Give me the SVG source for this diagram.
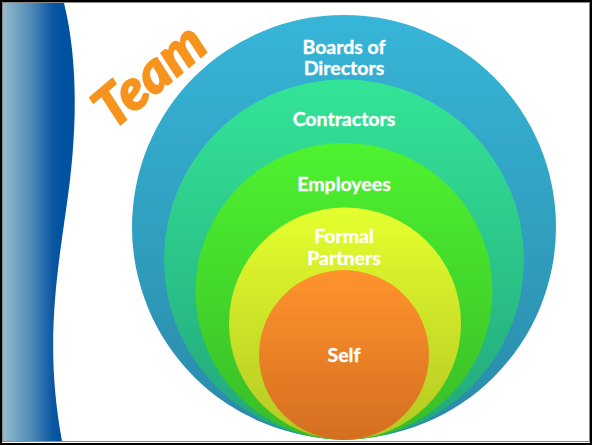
<svg xmlns="http://www.w3.org/2000/svg" width="592" height="445" viewBox="0 0 592 445">
<style>
.lbl{font-family:Lato,"Open Sans","Liberation Sans",sans-serif;font-weight:bold;font-size:19.5px;fill:#ffffff;stroke:#ffffff;stroke-width:0.35;text-anchor:middle}
.team{font-family:Lato,"Open Sans","Liberation Sans",sans-serif;font-weight:900;font-style:italic;font-size:56px;fill:#F7941D;stroke:#F7941D;stroke-width:1.6;stroke-linejoin:round}
</style>
<defs>
<linearGradient id="gWave" gradientUnits="userSpaceOnUse" x1="4" y1="0" x2="62" y2="0">
<stop offset="0" stop-color="#92BACB"/>
<stop offset="0.5" stop-color="#4A86B6"/>
<stop offset="0.85" stop-color="#0A56A2"/>
<stop offset="1" stop-color="#0052A0"/>
</linearGradient>
<linearGradient id="g1" x1="0" y1="0" x2="0" y2="1"><stop offset="0" stop-color="#37B5D8"/><stop offset="1" stop-color="#2A8AA8"/></linearGradient>
<linearGradient id="g2" x1="0" y1="0" x2="0" y2="1"><stop offset="0" stop-color="#34E497"/><stop offset="1" stop-color="#22A67A"/></linearGradient>
<linearGradient id="g3" x1="0" y1="0" x2="0" y2="1"><stop offset="0" stop-color="#4EF230"/><stop offset="1" stop-color="#38BC26"/></linearGradient>
<linearGradient id="g4" x1="0" y1="0" x2="0" y2="1"><stop offset="0" stop-color="#E4FF2E"/><stop offset="1" stop-color="#B4C722"/></linearGradient>
<linearGradient id="g5" x1="0" y1="0" x2="0" y2="1"><stop offset="0" stop-color="#FF942D"/><stop offset="1" stop-color="#D46E20"/></linearGradient>
</defs>
<rect x="0" y="0" width="592" height="445" fill="#ffffff"/>
<path d="M3,3 L64,3 C78,60 78,130 66,210 C56,280 45,350 62,441 L3,441 Z" fill="url(#gWave)"/>
<text class="team" transform="translate(113,131) rotate(-40)">Team</text>
<g id="boards">
<circle cx="344" cy="227" r="212" fill="url(#g1)"/>
<text class="lbl" x="344" y="54">Boards of</text>
<text class="lbl" x="344" y="75">Directors</text>
</g>
<g id="contractors">
<circle cx="344" cy="259.5" r="180" fill="url(#g2)"/>
<text class="lbl" x="344" y="126">Contractors</text>
</g>
<g id="employees">
<circle cx="344" cy="291.5" r="148.5" fill="url(#g3)"/>
<text class="lbl" x="344" y="191">Employees</text>
</g>
<g id="partners">
<circle cx="345" cy="323.5" r="116" fill="url(#g4)"/>
<text class="lbl" x="344" y="243">Formal</text>
<text class="lbl" x="344" y="265">Partners</text>
</g>
<g id="self">
<circle cx="344" cy="355" r="85" fill="url(#g5)"/>
<text class="lbl" x="344" y="362">Self</text>
</g>
<g id="connectors"></g>
<rect x="2.5" y="2.5" width="587" height="439" fill="none" stroke="#8a8a8a" stroke-width="1"/>
<rect x="1" y="1" width="590" height="443" fill="none" stroke="#000000" stroke-width="2"/>
</svg>
